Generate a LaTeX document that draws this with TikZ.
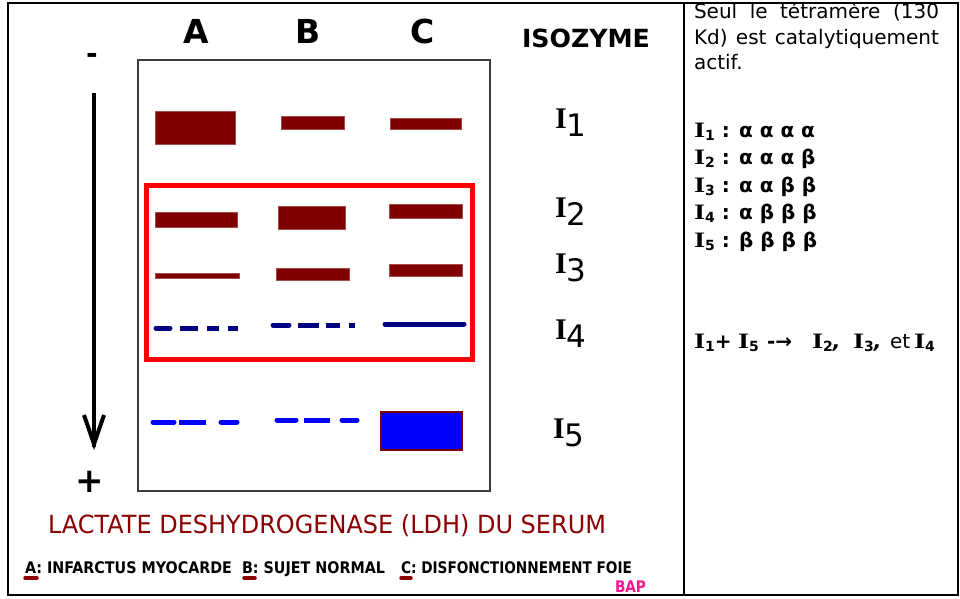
\documentclass[tikz,border=0pt]{standalone}
\usepackage{fontspec}
\usepackage{graphicx}
\setmainfont{DejaVu Sans}
\newfontfamily\serifb{Liberation Serif}[BoldFont=* Bold]
\usetikzlibrary{arrows.meta}
\definecolor{band}{RGB}{128,0,0}
\definecolor{capred}{RGB}{139,0,0}
\definecolor{navyb}{RGB}{0,0,128}
\definecolor{blueb}{RGB}{0,0,255}
\definecolor{bappink}{RGB}{255,20,147}
\definecolor{gelgray}{RGB}{60,60,60}
\newcommand{\ilab}[1]{{\serifb\bfseries\fontsize{30}{30}\selectfont I}\raisebox{-8pt}{\fontsize{31}{31}\selectfont #1}}
\newcommand{\ib}[1]{\scalebox{1.3}[1]{\serifb\bfseries\fontsize{22}{22}\selectfont I}\raisebox{-3pt}{\fontsize{14}{14}\selectfont\bfseries #1}}
\newcommand{\fp}[2]{\makebox[#1][l]{#2}}
\tikzset{
  txt/.style={inner sep=0pt, outer sep=0pt},
  bandbox/.style={fill=band, draw=band!70!white, line width=0.6pt},
  navydash/.style={draw=navyb, line width=5pt},
  bluedash/.style={draw=blueb, line width=5pt},
  collab/.style={txt, font=\fontsize{33}{33}\selectfont\bfseries},
  isolab/.style={txt, anchor=base west},
  introtxt/.style={txt, anchor=base west, font=\fontsize{20}{20}\selectfont},
  rowtxt/.style={txt, anchor=base west, font=\fontsize{20}{20}\selectfont\bfseries},
  legmark/.style={draw=capred, line width=3.5pt, line cap=round},
}
\begin{document}
\begin{tikzpicture}[x=1pt,y=-1pt]
\useasboundingbox (0,0) rectangle (960,598);
% outer table
\draw[line width=2.2pt] (8,3) rectangle (958,595);
\draw[line width=2pt] (684,3) -- (684,595);
% gel box
\draw[gelgray, line width=1.5pt] (138,60) rectangle (490,491);
% column labels
\node[collab] (colA) at (196,31) {A};
\node[collab] (colB) at (308,31) {B};
\node[collab] (colC) at (423,31) {C};
\node[txt] (iso) at (586,38) {\resizebox{128pt}{\height}{\fontsize{25}{25}\selectfont\bfseries ISOZYME}};
% signs and arrow
\node[txt, font=\fontsize{28}{28}\selectfont\bfseries] (minus) at (92,58) {-};
\node[txt, font=\fontsize{34}{34}\selectfont\bfseries] (plus) at (90,482) {+};
\coordinate (arrS) at (94,93);
\coordinate (arrE) at (94,444);
\draw[line width=4pt] (arrS) -- ([yshift=-3pt]arrE);
\draw[line width=4pt, line join=miter] (84,415) -- (arrE) -- (104,415);
% I1 bands
\draw[bandbox] (155,111) rectangle (235,144);
\draw[bandbox] (281,116) rectangle (344,129);
\draw[bandbox] (390,118) rectangle (461,129);
% red box
\draw[red, line width=5pt] (146,185) rectangle (472,359);
% I2 bands
\draw[bandbox] (155,212) rectangle (237,227);
\draw[bandbox] (278,206) rectangle (345,229);
\draw[bandbox] (389,204) rectangle (462,218);
% I3 bands
\draw[bandbox] (155,273) rectangle (239,278);
\draw[bandbox] (276,268) rectangle (349,280);
\draw[bandbox] (389,264) rectangle (462,276);
% I4 bands
\draw[navydash, line cap=round] (156,328) -- (170,328);
\draw[navydash] (180,328) -- (198,328);
\draw[navydash] (207,328) -- (219,328);
\draw[navydash] (228,328) -- (238,328);
\draw[navydash, line cap=round] (273,325) -- (289,325);
\draw[navydash] (298,325) -- (319,325);
\draw[navydash] (326,325) -- (340,325);
\draw[navydash] (349,325) -- (355,325);
\draw[navydash, line cap=round] (385,324) -- (464,324);
% I5 bands
\draw[bluedash, line cap=round] (153,422) -- (174,422);
\draw[bluedash] (179,422) -- (206,422);
\draw[bluedash, line cap=round] (221,422) -- (237,422);
\draw[bluedash, line cap=round] (277,420) -- (296,420);
\draw[bluedash] (304,420) -- (330,420);
\draw[bluedash, line cap=round] (342,420) -- (357,420);
\draw[fill=blueb, draw=band, line width=1.5pt] (381,412) rectangle (462,450);
% isozyme labels
\node[isolab] (i1) at (555,128) {\ilab{1}};
\node[isolab] (i2) at (555,217) {\ilab{2}};
\node[isolab] (i3) at (555,273) {\ilab{3}};
\node[isolab] (i4) at (555,339) {\ilab{4}};
\node[isolab] (i5) at (553,438) {\ilab{5}};
% caption
\node[txt, anchor=base west, text=capred] (cap) at (48,533) {\resizebox{558pt}{\height}{\fontsize{25}{25}\selectfont LACTATE DESHYDROGENASE (LDH) DU SERUM}};
% legend
\node[txt, anchor=base west] (legA) at (25,573) {\resizebox{207pt}{\height}{\fontsize{16}{16}\selectfont\bfseries A: INFARCTUS MYOCARDE}};
\node[txt, anchor=base west] (legB) at (242,573) {\resizebox{143pt}{\height}{\fontsize{16}{16}\selectfont\bfseries B: SUJET NORMAL}};
\node[txt, anchor=base west] (legC) at (401,573) {\resizebox{231pt}{\height}{\fontsize{16}{16}\selectfont\bfseries C: DISFONCTIONNEMENT FOIE}};
\coordinate (mA1) at (25,578); \coordinate (mA2) at (37,578);
\coordinate (mB1) at (244,578); \coordinate (mB2) at (255,578);
\coordinate (mC1) at (401,578); \coordinate (mC2) at (411,578);
\draw[legmark] (mA1) -- (mA2);
\draw[legmark] (mB1) -- (mB2);
\draw[legmark] (mC1) -- (mC2);
\node[txt, anchor=base west, text=bappink] (bap) at (615,592) {\resizebox{31pt}{\height}{\fontsize{16}{16}\selectfont\bfseries BAP}};
% right cell
\node[introtxt] (intro1) at (694,18) {\makebox[245pt][s]{Seul le tétramère (130}};
\node[introtxt] (intro2) at (694,44) {\makebox[245pt][s]{Kd) est catalytiquement}};
\node[introtxt] (intro3) at (694,69) {actif.};
\node[rowtxt] (r1) at (694,137) {\ib{1} : α α α α};
\node[rowtxt] (r2) at (694,164.5) {\ib{2} : α α α β};
\node[rowtxt] (r3) at (694,192) {\ib{3} : α α β β};
\node[rowtxt] (r4) at (694,219.5) {\ib{4} : α β β β};
\node[rowtxt] (r5) at (694,247) {\ib{5} : β β β β};
\node[rowtxt] (form) at (694,348) {\fp{44pt}{\ib{1}+}\fp{29pt}{\ib{5}}\fp{45pt}{-→}\fp{41pt}{\ib{2}\textit{,}}\fp{37pt}{\ib{3}\textit{,}}\fp{24pt}{\mdseries et}\ib{4}};
\end{tikzpicture}
\end{document}
